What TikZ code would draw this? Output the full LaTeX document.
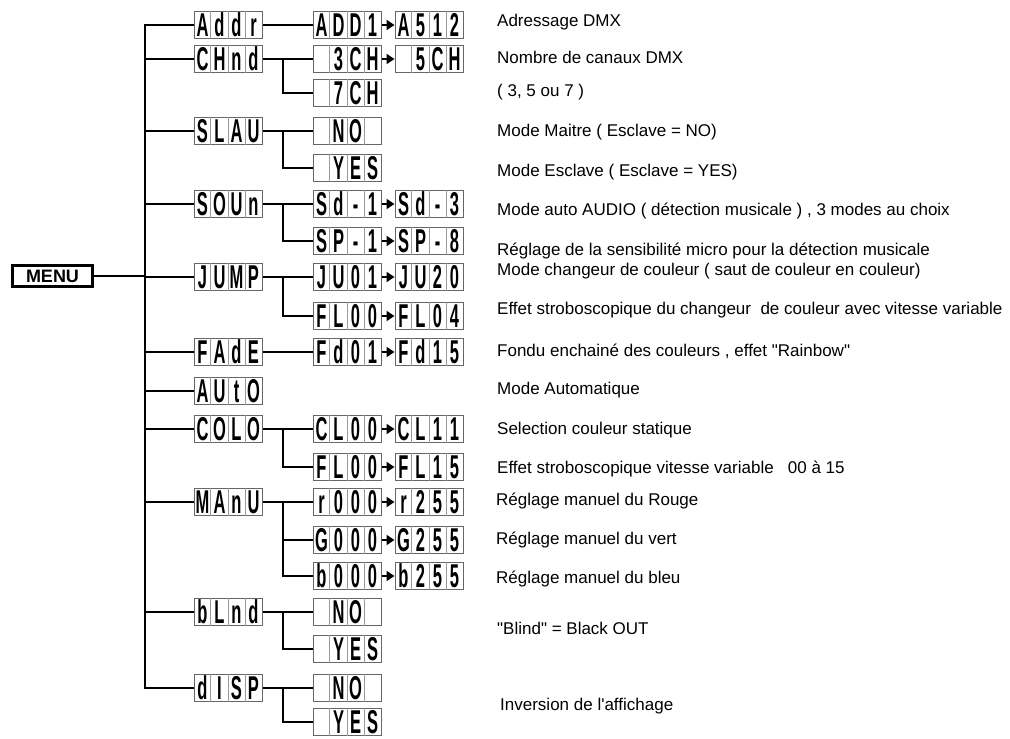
\documentclass[tikz,border=0pt]{standalone}
\usepackage{fontspec}
\setmainfont{Liberation Sans}
\usetikzlibrary{arrows.meta,calc}
\newcommand\lcdc[1]{\makebox[17pt]{\scalebox{0.5}[1]{\fontsize{33}{33}\selectfont\bfseries #1}}}
\newcommand\lcd[4]{\lcdc{#1}\lcdc{#2}\lcdc{#3}\lcdc{#4}}
\tikzset{
  lcdbox/.style={draw=black!60, line width=1pt, inner sep=0pt, minimum width=68pt, minimum height=27pt},
  sepline/.style={draw=black!40, line width=0.7pt},
  conn/.style={line width=2.6pt, black},
  arr/.style={line width=2.2pt, -{Triangle[length=8pt,width=10pt]}},
  desc/.style={anchor=west, inner sep=0pt, font=\fontsize{17}{18}\selectfont},
  menubox/.style={draw=black, line width=2.5pt, inner sep=0pt, minimum width=80pt, minimum height=21pt, font=\fontsize{18}{18}\selectfont\bfseries}
}
\begin{document}
\begin{tikzpicture}[x=1pt,y=-1pt]
\useasboundingbox (0,0) rectangle (1010,739);
% menu
\node[menubox] (menu) at (52.5,276) {MENU};
% level 1
\node[lcdbox] (addr) at (228,25) {\lcd{A}{d}{d}{r}};
\node[lcdbox] (chnd) at (228,59) {\lcd{C}{H}{n}{d}};
\node[lcdbox] (slav) at (228,131) {\lcd{S}{L}{A}{U}};
\node[lcdbox] (soun) at (228,204) {\lcd{S}{O}{U}{n}};
\node[lcdbox] (jump) at (228,277) {\lcd{J}{U}{M}{P}};
\node[lcdbox] (fade) at (228,352) {\lcd{F}{A}{d}{E}};
\node[lcdbox] (auto) at (228,391) {\lcd{A}{U}{t}{O}};
\node[lcdbox] (colo) at (228,429) {\lcd{C}{O}{L}{O}};
\node[lcdbox] (manu) at (228,502) {\lcd{M}{A}{n}{U}};
\node[lcdbox] (blnd) at (228,612) {\lcd{b}{L}{n}{d}};
\node[lcdbox] (disp) at (228,688) {\lcd{d}{I}{S}{P}};
% level 2
\node[lcdbox] (add1) at (347,25) {\lcd{A}{D}{D}{1}};
\node[lcdbox] (a512) at (429,25) {\lcd{A}{5}{1}{2}};
\node[lcdbox] (ch3) at (347,59) {\lcd{}{3}{C}{H}};
\node[lcdbox] (ch5) at (429,59) {\lcd{}{5}{C}{H}};
\node[lcdbox] (ch7) at (347,93) {\lcd{}{7}{C}{H}};
\node[lcdbox] (sno) at (347,131) {\lcd{}{N}{O}{}};
\node[lcdbox] (syes) at (347,168) {\lcd{}{Y}{E}{S}};
\node[lcdbox] (sd1) at (347,204) {\lcd{S}{d}{-}{1}};
\node[lcdbox] (sd3) at (429,204) {\lcd{S}{d}{-}{3}};
\node[lcdbox] (sp1) at (347,241) {\lcd{S}{P}{-}{1}};
\node[lcdbox] (sp8) at (429,241) {\lcd{S}{P}{-}{8}};
\node[lcdbox] (ju01) at (347,277) {\lcd{J}{U}{0}{1}};
\node[lcdbox] (ju20) at (429,277) {\lcd{J}{U}{2}{0}};
\node[lcdbox] (fla) at (347,316) {\lcd{F}{L}{0}{0}};
\node[lcdbox] (fl04) at (429,316) {\lcd{F}{L}{0}{4}};
\node[lcdbox] (fd01) at (347,352) {\lcd{F}{d}{0}{1}};
\node[lcdbox] (fd15) at (429,352) {\lcd{F}{d}{1}{5}};
\node[lcdbox] (cl00) at (347,429) {\lcd{C}{L}{0}{0}};
\node[lcdbox] (cl11) at (429,429) {\lcd{C}{L}{1}{1}};
\node[lcdbox] (flb) at (347,467) {\lcd{F}{L}{0}{0}};
\node[lcdbox] (fl15) at (429,467) {\lcd{F}{L}{1}{5}};
\node[lcdbox] (r000) at (347,502) {\lcd{r}{0}{0}{0}};
\node[lcdbox] (r255) at (429,502) {\lcd{r}{2}{5}{5}};
\node[lcdbox] (g000) at (347,540) {\lcd{G}{0}{0}{0}};
\node[lcdbox] (g255) at (429,540) {\lcd{G}{2}{5}{5}};
\node[lcdbox] (b000) at (347,576) {\lcd{b}{0}{0}{0}};
\node[lcdbox] (b255) at (429,576) {\lcd{b}{2}{5}{5}};
\node[lcdbox] (bno) at (347,612) {\lcd{}{N}{O}{}};
\node[lcdbox] (byes) at (347,649) {\lcd{}{Y}{E}{S}};
\node[lcdbox] (dno) at (347,688) {\lcd{}{N}{O}{}};
\node[lcdbox] (dyes) at (347,722) {\lcd{}{Y}{E}{S}};
% cell separators
\foreach \n in {addr,chnd,slav,soun,jump,fade,auto,colo,manu,blnd,disp,add1,a512,ch3,ch5,ch7,sno,syes,sd1,sd3,sp1,sp8,ju01,ju20,fla,fl04,fd01,fd15,cl00,cl11,flb,fl15,r000,r255,g000,g255,b000,b255,bno,byes,dno,dyes}{
  \foreach \f in {0.25,0.5,0.75}{
    \draw[sepline] ($(\n.north west)!\f!(\n.north east)$) -- ($(\n.south west)!\f!(\n.south east)$);
  }
}
% trunk
\coordinate (tr) at (145,0);
\coordinate (sub) at (283,0);
\draw[conn] (addr.west) -- (addr.west -| tr) -- (disp.west -| tr) -- (disp.west);
\draw[conn] (menu.east) -- (menu.east -| tr);
\foreach \n in {chnd,slav,soun,jump,fade,auto,colo,manu,blnd}{
  \draw[conn] (\n.west -| tr) -- (\n.west);
}
% sub branches
\draw[conn] (addr.east) -- (add1.west);
\draw[conn] (fade.east) -- (fd01.west);
\draw[conn] (chnd.east) -- (ch3.west);
\draw[conn] (chnd.east -| sub) -- (ch7.west -| sub) -- (ch7.west);
\draw[conn] (slav.east) -- (sno.west);
\draw[conn] (slav.east -| sub) -- (syes.west -| sub) -- (syes.west);
\draw[conn] (soun.east) -- (sd1.west);
\draw[conn] (soun.east -| sub) -- (sp1.west -| sub) -- (sp1.west);
\draw[conn] (jump.east) -- (ju01.west);
\draw[conn] (jump.east -| sub) -- (fla.west -| sub) -- (fla.west);
\draw[conn] (colo.east) -- (cl00.west);
\draw[conn] (colo.east -| sub) -- (flb.west -| sub) -- (flb.west);
\draw[conn] (manu.east) -- (r000.west);
\draw[conn] (manu.east -| sub) -- (b000.west -| sub) -- (b000.west);
\draw[conn] (g000.west -| sub) -- (g000.west);
\draw[conn] (blnd.east) -- (bno.west);
\draw[conn] (blnd.east -| sub) -- (byes.west -| sub) -- (byes.west);
\draw[conn] (disp.east) -- (dno.west);
\draw[conn] (disp.east -| sub) -- (dyes.west -| sub) -- (dyes.west);
% arrows
\draw[arr] (add1.east) -- (a512.west);
\draw[arr] (ch3.east) -- (ch5.west);
\draw[arr] (sd1.east) -- (sd3.west);
\draw[arr] (sp1.east) -- (sp8.west);
\draw[arr] (ju01.east) -- (ju20.west);
\draw[arr] (fla.east) -- (fl04.west);
\draw[arr] (fd01.east) -- (fd15.west);
\draw[arr] (cl00.east) -- (cl11.west);
\draw[arr] (flb.east) -- (fl15.west);
\draw[arr] (r000.east) -- (r255.west);
\draw[arr] (g000.east) -- (g255.west);
\draw[arr] (b000.east) -- (b255.west);
% descriptions
\node[desc] (d1) at (497,22) {Adressage DMX};
\node[desc] (d2) at (497,57) {Nombre de canaux DMX};
\node[desc] (d3) at (497,92) {( 3, 5 ou 7 )};
\node[desc] (d4) at (497,132) {Mode Maitre ( Esclave = NO)};
\node[desc] (d5) at (497,172) {Mode Esclave ( Esclave = YES)};
\node[desc] (d6) at (497,211) {Mode auto AUDIO ( détection musicale ) , 3 modes au choix};
\node[desc] (d7) at (497,251) {Réglage de la sensibilité micro pour la détection musicale};
\node[desc] (d8) at (497,271) {Mode changeur de couleur ( saut de couleur en couleur)};
\node[desc] (d9) at (497,310) {Effet stroboscopique du changeur\ \ de couleur avec vitesse variable};
\node[desc] (d10) at (497,351) {Fondu enchainé des couleurs , effet \textquotedbl Rainbow\textquotedbl};
\node[desc] (d11) at (497,390) {Mode Automatique};
\node[desc] (d12) at (497,430) {Selection couleur statique};
\node[desc] (d13) at (497,469) {Effet stroboscopique vitesse variable \ \ 00 à 15};
\node[desc] (d14) at (496,501) {Réglage manuel du Rouge};
\node[desc] (d15) at (496,540) {Réglage manuel du vert};
\node[desc] (d16) at (496,579) {Réglage manuel du bleu};
\node[desc] (d17) at (497,628) {\textquotedbl Blind\textquotedbl{} = Black OUT};
\node[desc] (d18) at (500,706) {Inversion de l\textquotesingle affichage};
\end{tikzpicture}
\end{document}
